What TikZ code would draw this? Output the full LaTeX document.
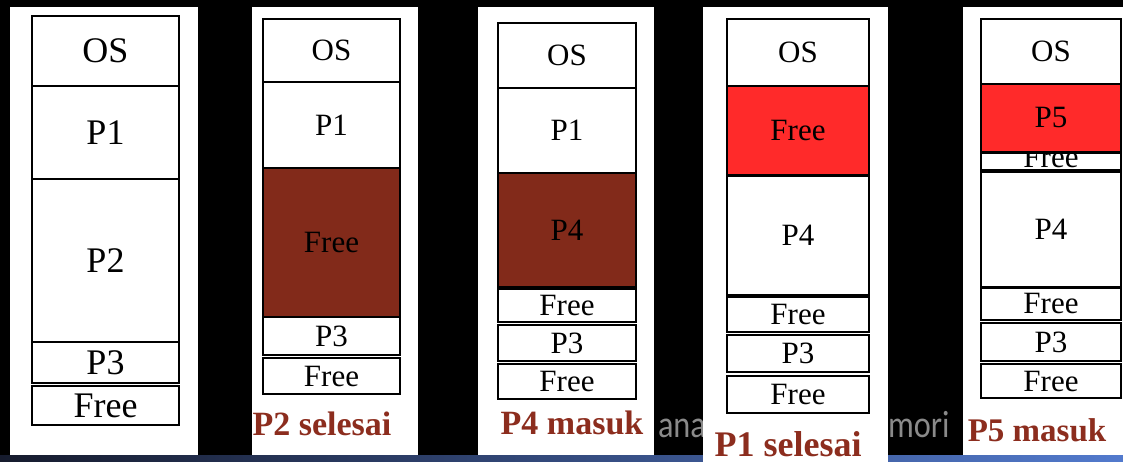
\documentclass[tikz,border=0pt]{standalone}
\usepackage{fontspec}
\setmainfont{Liberation Serif}
\newfontfamily\memfont{Liberation Serif}
\newfontfamily\footerfont{Carlito}
\usepackage{xcolor}

\definecolor{holebrown}{RGB}{130,42,26}
\definecolor{holered}{RGB}{255,42,42}
\definecolor{capbrown}{RGB}{140,45,30}
\definecolor{footgray}{RGB}{138,138,138}

\begin{document}
\begin{tikzpicture}[x=1pt, y=-1pt,
    cell/.style={rectangle, draw=black, line width=2pt, fill=white, inner sep=0pt, outer sep=0pt, text centered},
    hole-dark/.style={cell, fill=holebrown},
    hole-red/.style={cell, fill=holered},
    big-text/.style={font=\memfont\fontsize{36}{36}\selectfont},
    mid-text/.style={font=\memfont\fontsize{31}{31}\selectfont},
    caption/.style={anchor=base, text=capbrown, font=\memfont\bfseries\fontsize{34}{34}\selectfont},
    foot-text/.style={anchor=base west, text=footgray, font=\footerfont\fontsize{38}{38}\selectfont, xscale=0.85}]
    \useasboundingbox (0,0) rectangle (1123,462);
    \fill [black] (0,0) rectangle (1123,462);
    \shade [left color={rgb,255:red,22;green,27;blue,45}, right color={rgb,255:red,82;green,122;blue,205}] (0,455) rectangle (1123,462);
    \node [foot-text] (foot-a) at (655,437) {ana};
    \node [foot-text] (foot-b) at (885,437) {mori};

    % white slides
    \fill [white] (10,7) rectangle (198,455);
    \fill [white] (252,7) rectangle (418,455);
    \fill [white] (478,7) rectangle (654,455);
    \fill [white] (703,7) rectangle (888,462);
    \fill [white] (963,7) rectangle (1123,455);

    % starting layout
    \node [cell, big-text, minimum width=147pt, minimum height=70pt] (os-a) at (105.5,51) {OS};
    \node [cell, big-text, minimum width=147pt, minimum height=93pt] (p1-a) at (105.5,132.5) {P1};
    \node [cell, big-text, minimum width=147pt, minimum height=163pt] (p2-a) at (105.5,260.5) {P2};
    \node [cell, big-text, minimum width=147pt, minimum height=41pt] (p3-a) at (105.5,362.5) {P3};
    \node [cell, big-text, minimum width=147pt, minimum height=39pt] (free-a) at (105.5,405.5) {Free};

    % P2 done
    \node [cell, mid-text, minimum width=137pt, minimum height=63pt] (os-b) at (331.5,50.5) {OS};
    \node [cell, mid-text, minimum width=137pt, minimum height=86pt] (p1-b) at (331.5,125) {P1};
    \node [hole-dark, mid-text, minimum width=137pt, minimum height=149pt] (hole-b) at (331.5,242.5) {Free};
    \node [cell, mid-text, minimum width=137pt, minimum height=38pt] (p3-b) at (331.5,336) {P3};
    \node [cell, mid-text, minimum width=137pt, minimum height=36pt] (free-b) at (331.5,376) {Free};
    \node [caption] (cap-b) at (322,435) {P2 selesai};

    % P4 in
    \node [cell, mid-text, minimum width=138pt, minimum height=65pt] (os-c) at (567,55.5) {OS};
    \node [cell, mid-text, minimum width=138pt, minimum height=85pt] (p1-c) at (567,130.5) {P1};
    \node [hole-dark, mid-text, minimum width=138pt, minimum height=114pt] (p4-c) at (567,230) {P4};
    \node [cell, mid-text, minimum width=138pt, minimum height=33pt] (free-c1) at (567,305.5) {Free};
    \node [cell, mid-text, minimum width=138pt, minimum height=36pt] (p3-c) at (567,343) {P3};
    \node [cell, mid-text, minimum width=138pt, minimum height=35pt] (free-c2) at (567,381.5) {Free};
    \node [caption] (cap-c) at (572,434) {P4 masuk};

    % P1 done
    \node [cell, mid-text, minimum width=142pt, minimum height=67pt] (os-d) at (798,52.5) {OS};
    \node [hole-red, mid-text, minimum width=142pt, minimum height=89pt] (hole-d) at (798,130.5) {Free};
    \node [cell, mid-text, minimum width=142pt, minimum height=119pt] (p4-d) at (798,235.5) {P4};
    \node [cell, mid-text, minimum width=142pt, minimum height=35pt] (free-d1) at (798,314.5) {Free};
    \node [cell, mid-text, minimum width=142pt, minimum height=37pt] (p3-d) at (798,353.5) {P3};
    \node [cell, mid-text, minimum width=142pt, minimum height=37pt] (free-d2) at (798,394.5) {Free};
    \node [caption, font=\memfont\bfseries\fontsize{36}{36}\selectfont] (cap-d) at (788,456) {P1 selesai};

    % P5 in
    \node [cell, mid-text, minimum width=140pt, minimum height=17pt] (free-e0) at (1051,161.5) {};
    \node [anchor=base, mid-text] (free-e0-txt) at (1051,168) {Free};
    \node [cell, mid-text, minimum width=140pt, minimum height=65pt] (os-e) at (1051,51.5) {OS};
    \node [hole-red, mid-text, minimum width=140pt, minimum height=68pt] (p5-e) at (1051,118) {P5};
    \node [cell, mid-text, minimum width=140pt, minimum height=115pt] (p4-e) at (1051,229.5) {P4};
    \node [cell, mid-text, minimum width=140pt, minimum height=32pt] (free-e1) at (1051,304) {Free};
    \node [cell, mid-text, minimum width=140pt, minimum height=38pt] (p3-e) at (1051,342) {P3};
    \node [cell, mid-text, minimum width=140pt, minimum height=34pt] (free-e2) at (1051,381) {Free};
    \node [caption, font=\memfont\bfseries\fontsize{33}{33}\selectfont] (cap-e) at (1037,441) {P5 masuk};
\end{tikzpicture}
\end{document}
